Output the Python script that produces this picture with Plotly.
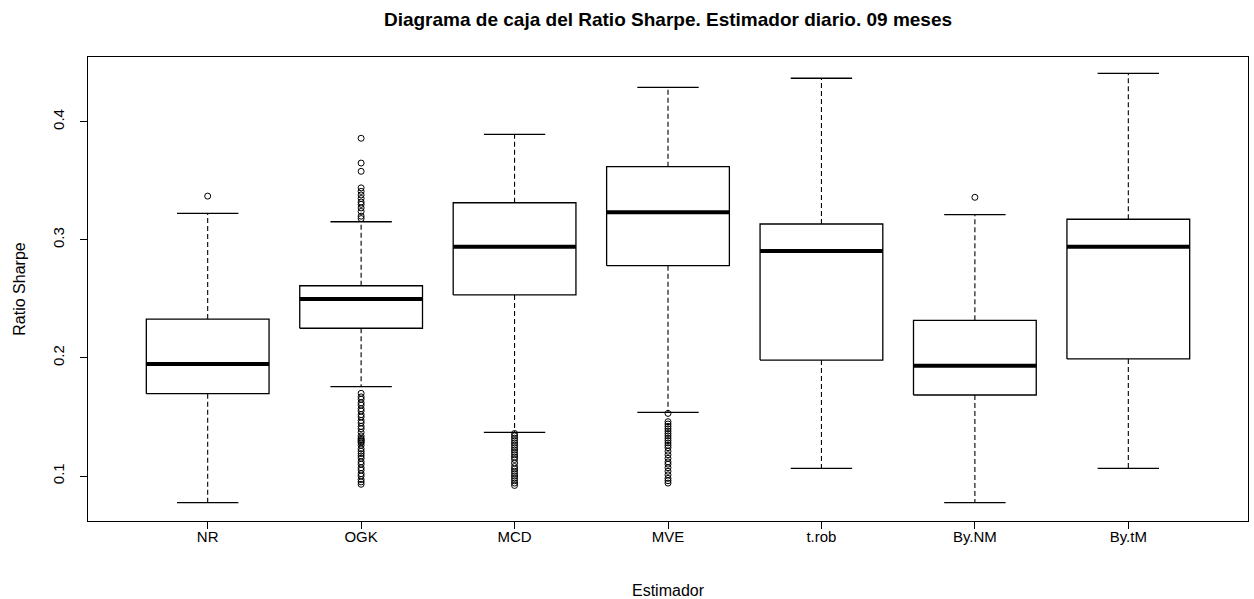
import plotly.graph_objects as go

# Estimators and their box statistics (Sharpe ratio, daily estimator, 9 months)
categories = ["NR", "OGK", "MCD", "MVE", "t.rob", "By.NM", "By.tM"]
whisker_low = [0.0774, 0.1756, 0.1370, 0.1539, 0.1065, 0.0774, 0.1065]
q1 = [0.1697, 0.2251, 0.2533, 0.2781, 0.1982, 0.1686, 0.1991]
median = [0.1948, 0.2499, 0.2942, 0.3233, 0.2905, 0.1934, 0.2942]
q3 = [0.2329, 0.2611, 0.3314, 0.3619, 0.3134, 0.2318, 0.3174]
whisker_high = [0.3224, 0.3153, 0.3893, 0.4291, 0.4368, 0.3213, 0.4410]

# Outlying observations per estimator
outliers = {
    "NR": [0.337],
    "OGK": [0.386, 0.365, 0.358, 0.344, 0.341, 0.338, 0.335, 0.332, 0.330,
            0.327, 0.324, 0.320, 0.318,
            0.170, 0.167, 0.165, 0.162, 0.160, 0.157, 0.155, 0.152, 0.150,
            0.147, 0.145, 0.142, 0.140, 0.137, 0.134, 0.132, 0.131, 0.130,
            0.129, 0.128, 0.126, 0.123, 0.121, 0.119, 0.117, 0.115, 0.112,
            0.110, 0.107, 0.105, 0.102, 0.100, 0.097, 0.095, 0.093],
    "MCD": [0.136, 0.134, 0.132, 0.130, 0.128, 0.126, 0.124, 0.122, 0.120,
            0.118, 0.116, 0.114, 0.111, 0.108, 0.106, 0.104, 0.102, 0.100,
            0.098, 0.096, 0.094, 0.092],
    "MVE": [0.153, 0.146, 0.144, 0.142, 0.140, 0.138, 0.136, 0.134, 0.132,
            0.130, 0.128, 0.126, 0.124, 0.121, 0.118, 0.115, 0.112, 0.110,
            0.107, 0.104, 0.101, 0.098, 0.096, 0.094],
    "t.rob": [],
    "By.NM": [0.336],
    "By.tM": [],
}

y_ticks = [0.1, 0.2, 0.3, 0.4]

HALF_BOX = 0.4      # half of the box width in x units
HALF_CAP = 0.2      # half of the whisker cap width
FONT = "Liberation Sans, Arial, sans-serif"

fig = go.Figure()

def add_line(xs, ys, width=1.3, dash="solid"):
    fig.add_trace(go.Scatter(
        x=xs, y=ys, mode="lines",
        line=dict(color="black", width=width, dash=dash),
        hoverinfo="skip", showlegend=False,
    ))

for i, name in enumerate(categories):
    pos = i + 1
    # dashed whiskers
    add_line([pos, pos], [q3[i], whisker_high[i]], width=1.1, dash="5px,3px")
    add_line([pos, pos], [q1[i], whisker_low[i]], width=1.1, dash="5px,3px")
    # caps
    add_line([pos - HALF_CAP, pos + HALF_CAP], [whisker_high[i]] * 2)
    add_line([pos - HALF_CAP, pos + HALF_CAP], [whisker_low[i]] * 2)
    # box
    add_line([pos - HALF_BOX, pos + HALF_BOX, pos + HALF_BOX, pos - HALF_BOX, pos - HALF_BOX],
             [q1[i], q1[i], q3[i], q3[i], q1[i]])
    # median
    add_line([pos - HALF_BOX, pos + HALF_BOX], [median[i]] * 2, width=4)
    # outliers
    pts = outliers[name]
    if pts:
        fig.add_trace(go.Scatter(
            x=[pos] * len(pts), y=pts, mode="markers",
            marker=dict(symbol="circle-open", size=6, color="black",
                        line=dict(width=1, color="black")),
            hoverinfo="skip", showlegend=False,
        ))

fig.update_layout(
    width=1254, height=599,
    margin=dict(l=88, r=6, t=57, b=78),
    paper_bgcolor="white", plot_bgcolor="white",
    font=dict(family=FONT, size=15, color="black"),
    title=dict(
        text="<b>Diagrama de caja del Ratio Sharpe. Estimador diario. 09 meses</b>",
        x=(88 + 1248) / 2 / 1254, xanchor="center", y=1 - 19 / 599, yanchor="middle",
        font=dict(family=FONT, size=19, color="black"),
    ),
    xaxis=dict(
        range=[0.22, 7.78], tickmode="array",
        tickvals=list(range(1, len(categories) + 1)), ticktext=categories,
        showgrid=False, zeroline=False, automargin=False,
        showline=True, linecolor="black", linewidth=1.3, mirror=True,
        ticks="outside", ticklen=7, tickcolor="black", tickwidth=1,
        tickfont=dict(family=FONT, size=15), ticklabelstandoff=-5,
        title=dict(text="Estimador", font=dict(family=FONT, size=16), standoff=40),
    ),
    yaxis=dict(
        range=[0.0619, 0.4548], tickmode="array", tickvals=y_ticks,
        ticktext=[f"{v:.1f}" for v in y_ticks], tickangle=-90,
        showgrid=False, zeroline=False, automargin=False,
        showline=True, linecolor="black", linewidth=1.3, mirror=True,
        ticks="outside", ticklen=7, tickcolor="black", tickwidth=1,
        tickfont=dict(family=FONT, size=15), ticklabelstandoff=10,
        title=dict(text="Ratio Sharpe", font=dict(family=FONT, size=16), standoff=20),
    ),
)

fig.write_html("out.html")
